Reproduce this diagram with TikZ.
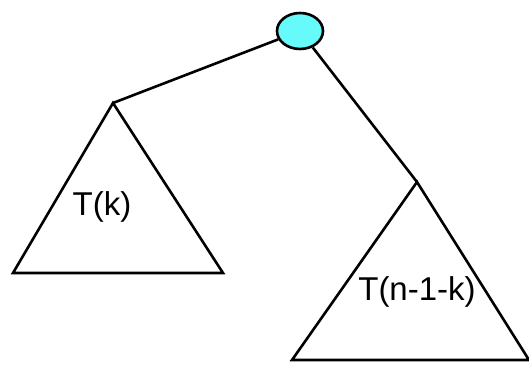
\documentclass[tikz,border=0pt]{standalone}
\usepackage{fontspec}
\setmainfont{Liberation Sans}
\usetikzlibrary{shapes.geometric}
\definecolor{rootcyan}{RGB}{102,250,250}

\begin{document}
\begin{tikzpicture}[x=1pt, y=-1pt,
  rootnode/.style={draw, ellipse, fill=rootcyan, line width=2.6pt, minimum width=46pt, minimum height=36pt, inner sep=0pt},
  subtree/.style={draw, line width=2.6pt, line join=miter},
  edge/.style={line width=2.6pt},
  treelabel/.style={font=\fontsize{33}{38}\selectfont, inner sep=0pt}
]
\useasboundingbox (0,0) rectangle (529,371);

% Nodes
\node[rootnode] (root) at (300,31) {};
\coordinate (lefttop) at (113,103);
\coordinate (leftbl) at (13,273);
\coordinate (leftbr) at (223,273);
\coordinate (righttop) at (417,182);
\coordinate (rightbl) at (292,360);
\coordinate (rightbr) at (529,360);

% Subtrees
\draw[subtree] (lefttop) -- (leftbl) -- (leftbr) -- cycle;
\draw[subtree] (righttop) -- (rightbl) -- (rightbr) -- cycle;
\node[treelabel] (tk) at (102,207) {T(k)};
\node[treelabel] (tnk) at (417,292) {T(n-1-k)};

% Edges
\draw[edge] (root) -- (lefttop);
\draw[edge] (root) -- (righttop);

\end{tikzpicture}
\end{document}
